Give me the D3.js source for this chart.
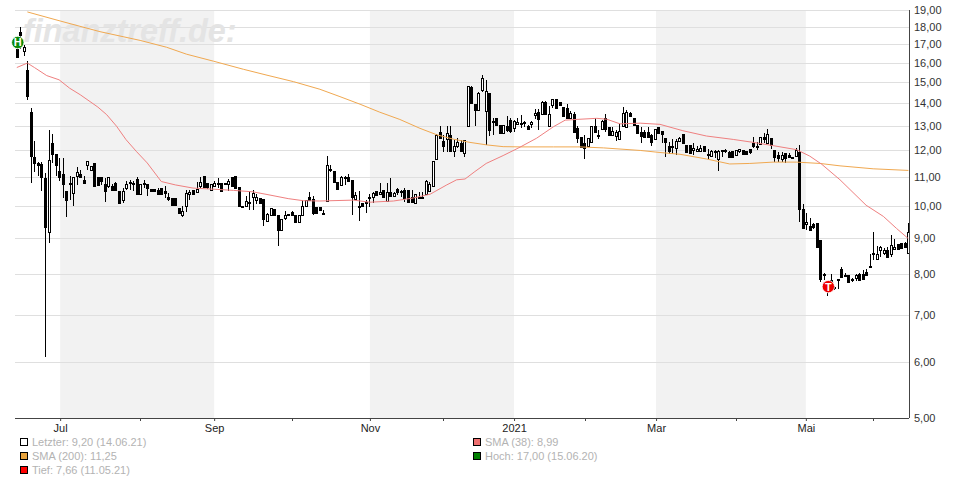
<!DOCTYPE html>
<html><head><meta charset="utf-8">
<script src="https://cdn.jsdelivr.net/npm/d3@7"></script>
<style>html,body{margin:0;padding:0;background:#fff}svg{display:block;font-family:"Liberation Sans",Arial,sans-serif}</style>
</head><body><div id="chart"></div>
<script>
const opens=[
16.75,17.67,16.61,15.6,13.61,11.74,11.51,11.49,10.97,9.19,
12.29,11.86,11.23,11.11,10.52,10.78,10.44,11.03,11.12,10.9,
11.44,11.25,11.52,11.0,11.0,10.74,10.68,10.68,10.8,10.51,
10.21,10.61,10.83,10.79,10.93,10.41,10.77,10.76,10.59,10.59,
10.56,10.62,10.52,10.31,10.26,10.26,9.94,9.7,9.99,10.41,
10.54,10.48,10.67,11.04,10.79,10.56,10.68,10.8,10.77,10.77,
10.76,11.01,11.05,10.66,10.01,9.99,10.15,10.32,10.2,10.26,
10.25,9.52,9.71,9.92,9.73,9.24,9.61,9.75,9.82,9.71,
9.49,9.72,9.99,10.31,10.24,9.97,9.98,9.79,10.17,11.28,
11.21,10.84,10.71,11.01,11.0,10.9,10.23,10.0,10.09,10.14,
10.32,10.3,10.52,10.42,10.53,10.18,10.49,10.33,10.57,10.52,
10.53,10.53,10.29,10.09,10.32,10.32,10.4,10.51,10.68,11.68,
12.74,12.36,12.44,12.61,11.99,12.18,12.28,11.91,12.99,14.77,
13.99,13.71,14.61,13.64,14.48,13.22,13.36,13.03,12.72,13.0,
13.25,12.9,13.07,13.12,13.16,13.0,13.07,13.46,13.61,13.51,
14.08,12.99,13.94,14.18,14.05,13.83,13.8,13.36,13.5,12.9,
12.53,12.28,12.17,12.32,12.99,12.61,12.86,13.36,12.97,12.61,
12.58,12.44,12.99,12.97,13.58,13.36,13.06,12.76,12.76,12.74,
12.63,12.46,12.94,12.78,12.5,12.18,12.17,12.1,12.39,12.65,
12.22,12.21,12.03,11.99,11.99,12.17,11.81,11.79,11.98,11.65,
12.01,12.0,11.93,11.98,11.83,11.96,12.01,11.98,12.04,12.31,
12.19,12.24,12.53,12.31,12.49,12.0,11.84,11.68,11.91,11.81,
11.75,11.79,11.94,9.9,9.43,9.38,9.44,9.46,8.96,8.02,
7.72,7.85,7.67,7.85,8.13,7.99,7.98,7.89,7.9,8.0,
8.01,8.06,8.22,8.55,8.41,8.65,8.57,8.67,8.56,8.69,
8.83,8.85,8.87,8.58];
const closes=[
16.3,17.49,16.84,14.32,11.77,11.52,11.46,10.99,9.33,11.63,
11.88,11.43,10.99,10.76,10.2,10.8,11.0,11.2,11.0,10.78,
11.58,11.41,10.67,10.71,10.86,10.51,11.0,10.55,10.54,10.09,
10.52,10.76,10.77,10.77,10.4,10.76,10.76,10.61,10.52,10.51,
10.4,10.4,10.43,10.24,10.05,10.03,9.78,9.83,10.45,10.49,
10.41,10.57,10.83,10.64,10.63,10.76,10.8,10.76,10.51,10.74,
10.85,10.68,10.62,10.0,9.99,10.17,10.11,10.45,10.32,10.09,
9.58,9.75,9.94,9.71,9.24,9.59,9.73,9.73,9.7,9.49,
9.71,10.01,10.22,10.22,9.77,9.78,9.86,9.75,11.43,11.25,
10.84,10.57,10.99,10.99,10.87,10.29,10.37,9.98,9.99,10.11,
10.28,10.43,10.36,10.47,10.32,10.49,10.34,10.44,10.49,10.49,
10.26,10.15,10.13,10.39,10.29,10.26,10.87,10.75,11.58,12.61,
12.49,12.18,12.72,11.98,12.17,12.33,11.96,12.42,14.81,14.03,
13.68,14.48,15.22,14.57,12.81,13.18,13.06,12.72,13.03,12.81,
12.79,13.2,13.16,13.09,13.12,12.86,13.16,13.55,13.32,14.08,
13.51,13.51,14.18,13.8,13.91,13.41,13.33,13.58,12.76,12.5,
12.12,12.1,12.51,12.99,12.76,12.6,13.2,12.89,12.63,12.78,
12.74,12.78,13.58,13.59,13.43,13.03,12.69,12.6,12.56,12.56,
12.35,12.86,12.69,12.68,12.35,11.98,12.14,12.36,12.5,12.28,
11.93,11.91,12.11,12.07,12.11,11.98,11.88,11.96,11.96,11.96,
11.99,11.99,11.73,11.73,12.0,12.07,11.85,11.85,11.94,12.17,
12.17,12.53,12.47,12.65,12.21,11.73,11.69,11.84,11.72,11.73,
11.7,12.0,9.9,9.3,9.49,9.26,9.35,8.74,7.88,7.98,
7.66,7.84,7.65,7.87,7.93,7.95,7.79,7.85,7.98,7.85,
7.88,7.98,8.2,8.59,8.56,8.74,8.66,8.48,8.8,8.74,
8.7,8.71,8.76,9.2];
const highs=[
16.96,17.96,16.96,16.09,13.78,12.36,11.54,11.54,11.15,12.81,
12.67,11.86,11.7,11.7,10.52,11.02,11.0,11.36,11.27,11.02,
11.58,11.41,11.52,11.0,11.0,10.97,11.0,10.74,10.82,10.51,
10.62,10.85,10.91,10.85,10.99,10.76,10.91,10.76,10.59,10.59,
10.61,10.62,10.68,10.45,10.27,10.26,9.94,9.99,10.54,10.56,
10.54,10.82,10.99,11.04,10.79,10.76,10.85,10.97,10.77,10.77,
10.94,11.01,11.05,10.66,10.01,10.33,10.51,10.56,10.39,10.26,
10.25,9.78,9.94,9.92,9.73,9.59,9.83,9.75,9.85,9.71,
9.71,10.22,10.22,10.49,10.33,9.97,9.98,9.88,11.78,11.44,
11.21,10.84,11.05,11.05,11.1,10.9,10.49,10.52,10.09,10.21,
10.4,10.49,10.52,10.78,10.53,10.8,10.95,10.49,10.61,10.55,
10.61,10.53,10.55,10.39,10.49,10.49,10.9,10.84,11.59,12.65,
13.0,12.63,13.0,13.0,12.42,12.49,12.42,12.42,14.82,14.8,
13.99,14.52,15.36,15.1,14.48,13.36,13.36,13.03,13.03,13.42,
13.36,13.26,13.33,13.48,13.23,13.04,13.22,13.75,13.75,14.11,
14.11,13.88,14.18,14.18,14.05,13.84,13.96,13.67,13.62,13.0,
12.53,12.63,12.51,13.0,13.33,12.81,13.26,13.51,12.97,12.97,
12.81,13.09,13.84,13.7,13.62,13.36,13.06,12.94,12.83,12.97,
12.65,12.86,12.97,12.78,12.5,12.35,12.44,12.44,12.53,12.65,
12.22,12.21,12.28,12.18,12.21,12.17,12.04,12.0,12.0,12.0,
12.03,12.07,11.98,11.98,12.03,12.07,12.03,11.98,12.07,12.53,
12.35,12.53,12.69,12.86,12.49,12.0,11.94,11.94,11.91,11.91,
11.75,12.11,12.21,10.06,9.77,9.61,9.46,9.46,8.96,8.04,
7.81,8.0,7.69,7.87,8.19,8.04,7.98,7.9,8.0,8.04,
8.11,8.13,8.56,9.18,8.78,8.78,8.73,8.76,9.1,8.99,
8.83,8.87,8.9,9.46];
const lows=[
16.3,16.7,16.35,14.16,10.79,11.18,11.02,10.51,6.1,8.85,
11.52,11.02,10.85,10.27,9.65,10.22,9.99,10.71,10.97,10.78,
11.25,11.25,10.64,10.7,10.7,10.13,10.62,10.53,10.51,10.09,
10.1,10.56,10.56,10.51,10.4,10.41,10.62,10.33,10.52,10.51,
10.39,10.39,10.27,10.17,10.01,10.03,9.78,9.65,9.8,10.22,
10.41,10.45,10.62,10.64,10.59,10.54,10.64,10.62,10.51,10.74,
10.51,10.68,10.62,10.0,9.99,9.99,9.87,9.89,10.08,10.09,
9.37,9.52,9.71,9.71,8.78,9.24,9.57,9.73,9.68,9.49,
9.49,9.7,9.99,10.22,9.71,9.78,9.86,9.7,10.15,11.19,
10.82,10.55,10.69,10.72,10.87,9.7,10.21,9.52,9.99,9.77,
9.98,10.09,10.36,10.38,10.32,10.15,10.32,10.3,10.38,10.3,
10.15,10.15,10.11,10.09,10.26,10.23,10.38,10.49,10.67,11.63,
12.44,11.94,11.94,11.94,11.75,12.11,11.94,11.75,12.99,13.99,
13.01,13.7,14.52,12.22,12.58,12.63,13.01,12.69,12.72,12.76,
12.69,12.76,13.04,12.9,12.97,12.81,12.9,13.29,12.83,13.48,
13.48,12.97,13.77,13.77,13.91,13.38,13.3,13.29,12.76,12.28,
12.1,11.65,12.15,12.32,12.74,12.47,12.83,12.75,12.58,12.58,
12.39,12.42,12.97,12.97,13.41,13.0,12.67,12.28,12.56,12.56,
12.17,12.44,12.67,12.31,11.75,11.88,11.88,11.81,12.35,12.26,
11.91,11.91,11.81,11.98,11.98,11.96,11.65,11.75,11.69,11.23,
11.75,11.9,11.72,11.73,11.8,11.9,11.81,11.85,11.88,12.11,
12.0,12.21,12.31,12.28,12.07,11.56,11.54,11.54,11.53,11.73,
11.7,11.75,9.48,9.27,9.25,9.25,9.27,8.73,7.81,7.85,
7.45,7.79,7.59,7.63,7.91,7.93,7.77,7.8,7.84,7.84,
7.87,7.98,8.2,8.39,8.39,8.48,8.53,8.46,8.48,8.67,
8.7,8.69,8.74,8.56];

const sma38Days=[0,3,5,8.5,12,15,18,23,25.5,28.3,31,34,37,41,45,50,56,61.5,67,71,77,81.3,86,95.5,100.2,106.9,112.5,117.3,122,124.8,127.2,130,133.2,138,142.8,147.5,152.3,155.6,159.8,164.6,167.4,171.2,176.9,182.5,189,195.7,203.3,209,214.6,221.3,225,228.4,233.6,241,245.9,249.6,253];
const sma38Values=[15.74,15.97,15.74,15.33,15.12,14.71,14.4,13.83,13.49,12.99,12.43,11.95,11.52,10.84,10.72,10.61,10.57,10.53,10.48,10.39,10.25,10.18,10.17,10.2,10.13,10.17,10.27,10.4,10.72,10.9,10.93,11.2,11.5,11.8,12.13,12.49,12.97,13.25,13.29,13.33,13.29,13.09,13.12,13.07,12.8,12.58,12.44,12.32,12.19,12.03,11.78,11.47,10.9,10.03,9.67,9.3,8.99];
const sma200Days=[3,12.3,23.6,35,42.5,48.2,55.8,64.3,71,78.5,86,91.7,97.4,103,108.7,114.4,119.2,123.9,128.6,133.3,138,142.8,152.3,159.8,166.5,176.9,182.5,188.2,195.7,202.3,208,214.6,221.3,227.9,233.6,243,253];
const sma200Values=[18.88,18.33,17.7,17.2,16.82,16.44,16.07,15.65,15.35,15.03,14.66,14.31,13.96,13.6,13.28,12.9,12.63,12.45,12.32,12.22,12.15,12.14,12.14,12.14,12.1,12.0,11.92,11.85,11.67,11.48,11.5,11.55,11.55,11.5,11.41,11.3,11.24];

const priceTicks=[5,6,7,8,9,10,11,12,13,14,15,16,17,18,19];
const monthDays=[12.3,56,100.2,141.1,181.4,223.9];
const monthLabels=["Jul","Sep","Nov","2021","Mar","Mai"];
const minorDays=[35,78.1,120.8,161.3,204,243];
const bandStarts=[12.3,100.2,181.4];
const bandEnds=[56,141.1,223.9];
const legendLeft=[["Letzter: 9,20 (14.06.21)","#ffffff"],["SMA (200): 11,25","#e8a33d"],["Tief: 7,66 (11.05.21)","#ff0000"]];
const legendRight=[["SMA (38): 8,99","#ee6f6f"],["Hoch: 17,00 (15.06.20)","#008000"]];
const pins=[{day:0,price:17,label:"H",color:"#0a8a0a"},{day:230,price:7.66,label:"T",color:"#ee0000"}];

const W=970,H=500;
const x=d3.scaleLinear().domain([0,253]).range([16.8,908.4]);
const y=d3.scaleLog().domain([5,19]).range([418,10]);
const svg=d3.select("#chart").append("svg").attr("width",W).attr("height",H);
const crisp=v=>Math.round(v);

// bands
svg.append("g").selectAll("rect").data(bandStarts).join("rect")
  .attr("x",d=>x(d)).attr("y",10).attr("height",408)
  .attr("width",(d,i)=>x(bandEnds[i])-x(d)).attr("fill","#f2f2f2");
// grid
svg.append("g").selectAll("line").data(priceTicks.slice(1)).join("line")
  .attr("x1",15).attr("x2",909).attr("y1",d=>crisp(y(d))+.5).attr("y2",d=>crisp(y(d))+.5)
  .attr("stroke","#dfdfdf").attr("stroke-width",1);
// logo
svg.append("text").attr("x",23).attr("y",42).text("finanztreff.de:")
  .attr("font-size",32.4).attr("font-weight","bold").attr("font-style","italic").attr("fill","#e4e4e4");

// candles
const days=d3.range(opens.length);
const c=svg.append("g");
c.selectAll("line").data(days).join("line")
  .attr("x1",i=>crisp(x(i))+.5).attr("x2",i=>crisp(x(i))+.5)
  .attr("y1",i=>crisp(y(highs[i]))).attr("y2",i=>crisp(y(lows[i])))
  .attr("stroke","#000").attr("stroke-width",1);
c.selectAll("rect").data(days).join("rect")
  .attr("x",i=>crisp(x(i))-.5).attr("width",2)
  .attr("y",i=>crisp(y(Math.max(opens[i],closes[i])))+.5)
  .attr("height",i=>Math.max(1,crisp(y(Math.min(opens[i],closes[i])))-crisp(y(Math.max(opens[i],closes[i])))))
  .attr("fill",i=>closes[i]>=opens[i]?"#fff":"#000").attr("stroke","#000").attr("stroke-width",1);

// moving averages
const line=d3.line().curve(d3.curveLinear);
svg.append("path").attr("d",line(sma200Days.map((d,i)=>[x(d),y(sma200Values[i])])))
  .attr("fill","none").attr("stroke","#f0a850").attr("stroke-width",1);
svg.append("path").attr("d",line(sma38Days.map((d,i)=>[x(d),y(sma38Values[i])])))
  .attr("fill","none").attr("stroke","#ef8080").attr("stroke-width",1);

// pins
const pin=svg.append("g").selectAll("g").data(pins).join("g")
  .attr("transform",d=>`translate(${x(d.day)+1},${y(d.price)+(d.label==="H"?-1.5:-1)})`);
pin.append("circle").attr("r",6.2).attr("fill",d=>d.color).attr("stroke","#fff").attr("stroke-width",.8);
pin.append("text").text(d=>d.label).attr("text-anchor","middle").attr("y",4)
  .attr("font-size",11).attr("font-weight","bold").attr("fill","#fff");

// axes
const yAxis=d3.axisRight(y).tickValues(priceTicks).tickSize(0).tickPadding(5)
  .tickFormat(d=>d3.format(".2f")(d).replace(".",","));
const gy=svg.append("g").attr("transform","translate(909,0)").call(yAxis);
gy.select(".domain").attr("stroke","#444").attr("d","M0.5,10V418");
gy.selectAll("text").attr("font-size",11).attr("font-family","Liberation Sans").attr("fill","#333");

const xAxis=d3.axisBottom(x).tickValues(monthDays).tickSize(3).tickPadding(3)
  .tickFormat((d,i)=>monthLabels[i]);
const gx=svg.append("g").attr("transform","translate(0,418)").call(xAxis);
gx.select(".domain").attr("stroke","#444").attr("d","M15,0.5H909");
gx.selectAll("line").attr("stroke","#444");
gx.selectAll("text").attr("font-size",11).attr("font-family","Liberation Sans").attr("fill","#222");
svg.append("g").attr("transform","translate(0,418)").selectAll("line").data(minorDays).join("line")
  .attr("x1",d=>crisp(x(d))+.5).attr("x2",d=>crisp(x(d))+.5).attr("y1",0).attr("y2",3).attr("stroke","#444");

// legend
function legend(items,xPos){
  const g=svg.append("g").selectAll("g").data(items).join("g")
    .attr("transform",(d,i)=>`translate(${xPos},${438+14*i})`);
  g.append("rect").attr("x",.5).attr("y",.5).attr("width",7).attr("height",7)
    .attr("fill",d=>d[1]).attr("stroke","#000");
  g.append("text").attr("x",12).attr("y",7.5).text(d=>d[0]).attr("font-size",11).attr("fill","#b3b3b3");
}
legend(legendLeft,20);
legend(legendRight,473);
</script></body></html>
